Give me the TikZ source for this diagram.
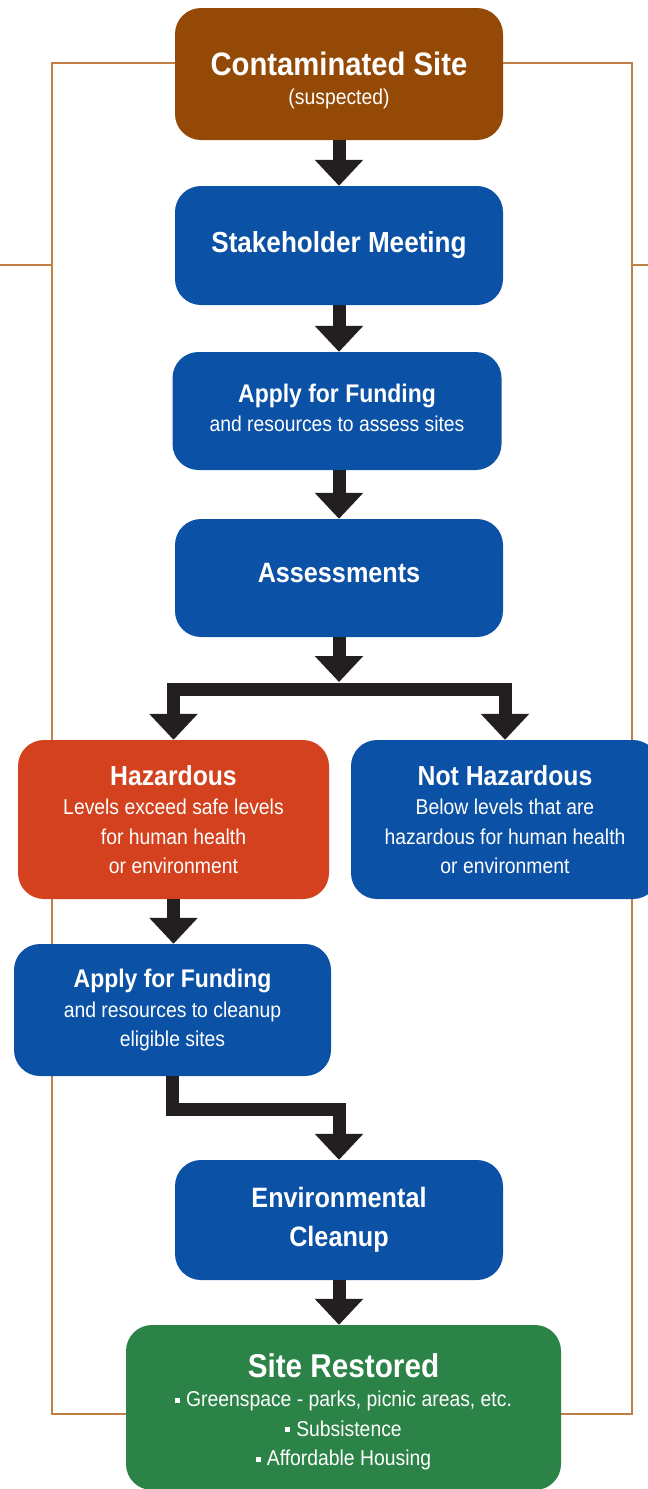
\documentclass[tikz,border=0pt]{standalone}
\usepackage{fontspec}
\setmainfont{Liberation Sans}[FakeStretch=0.9]
\usepackage{xcolor}
\usepackage{tikz}
\usetikzlibrary{arrows.meta}
\definecolor{frameline}{HTML}{C27F44}
\definecolor{brownbox}{HTML}{944A06}
\definecolor{bluebox}{HTML}{0B51A5}
\definecolor{redbox}{HTML}{D3411E}
\definecolor{greenbox}{HTML}{2C8347}
\definecolor{arrowc}{HTML}{231F20}
\newcommand{\bodyfont}{\fontsize{21.5}{29.5}\selectfont}
\newcommand{\hd}[2][28]{{\fontsize{#1}{#1}\selectfont\bfseries #2}}
\newcommand{\sqb}{\rule[4pt]{5pt}{5pt}\hspace{6pt}}
\tikzset{
  frame/.style={draw=frameline, line width=2.5pt},
  box/.style={rounded corners=26pt, text=white, align=center, inner sep=0pt, font=\bodyfont},
  flow/.style={draw=arrowc, line width=13pt, line join=miter, -{Triangle[width=47pt,length=26pt]}}
}

\begin{document}
\begin{tikzpicture}[x=1pt,y=-1pt]
  \useasboundingbox (0,0) rectangle (648,1489);
  \draw[frame] (52,63) rectangle (632,1414);
  \draw[frame] (0,265) -- (52,265);
  \draw[frame] (632,265) -- (648,265);

  \node[box, fill=brownbox, minimum width=328pt, minimum height=132pt] (site) at (339,74)
    {\rule{0pt}{36pt}\hd[32.5]{Contaminated Site}\\ (suspected)};
  \node[box, fill=bluebox, minimum width=328pt, minimum height=119pt] (meet) at (339,245.5)
    {\hd[29]{Stakeholder Meeting}};
  \node[box, fill=bluebox, minimum width=329pt, minimum height=118pt] (fund) at (337,411)
    {\hd[25.5]{Apply for Funding}\\ and resources to assess sites\rule[-6pt]{0pt}{6pt}};
  \node[box, fill=bluebox, minimum width=328pt, minimum height=118pt] (assess) at (339,578)
    {\hd{Assessments}\rule[-10pt]{0pt}{10pt}};
  \node[box, fill=redbox, minimum width=311pt, minimum height=159pt] (haz) at (173.5,819.5)
    {\hd[27.5]{Hazardous}\\ Levels exceed safe levels\\ for human health\\ or environment};
  \node[box, fill=bluebox, minimum width=308pt, minimum height=159pt] (nothaz) at (505,819.5)
    {\hd[27.5]{Not Hazardous}\\ Below levels that are\\ hazardous for human health\\ or environment};
  \node[box, fill=bluebox, minimum width=317pt, minimum height=132pt] (cfund) at (172.5,1010)
    {\hd[25.5]{Apply for Funding}\\ and resources to cleanup\\ eligible sites};
  \node[box, fill=bluebox, minimum width=328pt, minimum height=120pt,
    font=\fontsize{28}{39}\selectfont\bfseries] (clean) at (339,1220)
    {Environmental\\ Cleanup};
  \node[box, fill=greenbox, minimum width=435pt, minimum height=165pt] (restored) at (343.5,1407.5)
    {\rule{0pt}{32pt}\hd[33]{Site Restored}\\ \sqb Greenspace - parks, picnic areas, etc.\\ \sqb Subsistence\\ \sqb Affordable Housing};

  \coordinate (forktop) at (339,682);
  \coordinate (fork) at (339,689.5);

  \draw[flow] (site) -- (meet);
  \draw[flow] (meet) -- (fund.north -| meet);
  \draw[flow] (fund.south -| meet) -- (assess);
  \draw[flow] (assess) -- (forktop);
  \draw[flow] (fork) -| (haz.north);
  \draw[flow] (fork) -| (nothaz.north);
  \draw[flow] (haz) -- (haz.south |- cfund.north);
  \draw[flow] (cfund.south) -- ++(0,33.5) -| (clean.north);
  \draw[flow] (clean) -- (clean.south |- restored.north);
\end{tikzpicture}
\end{document}
